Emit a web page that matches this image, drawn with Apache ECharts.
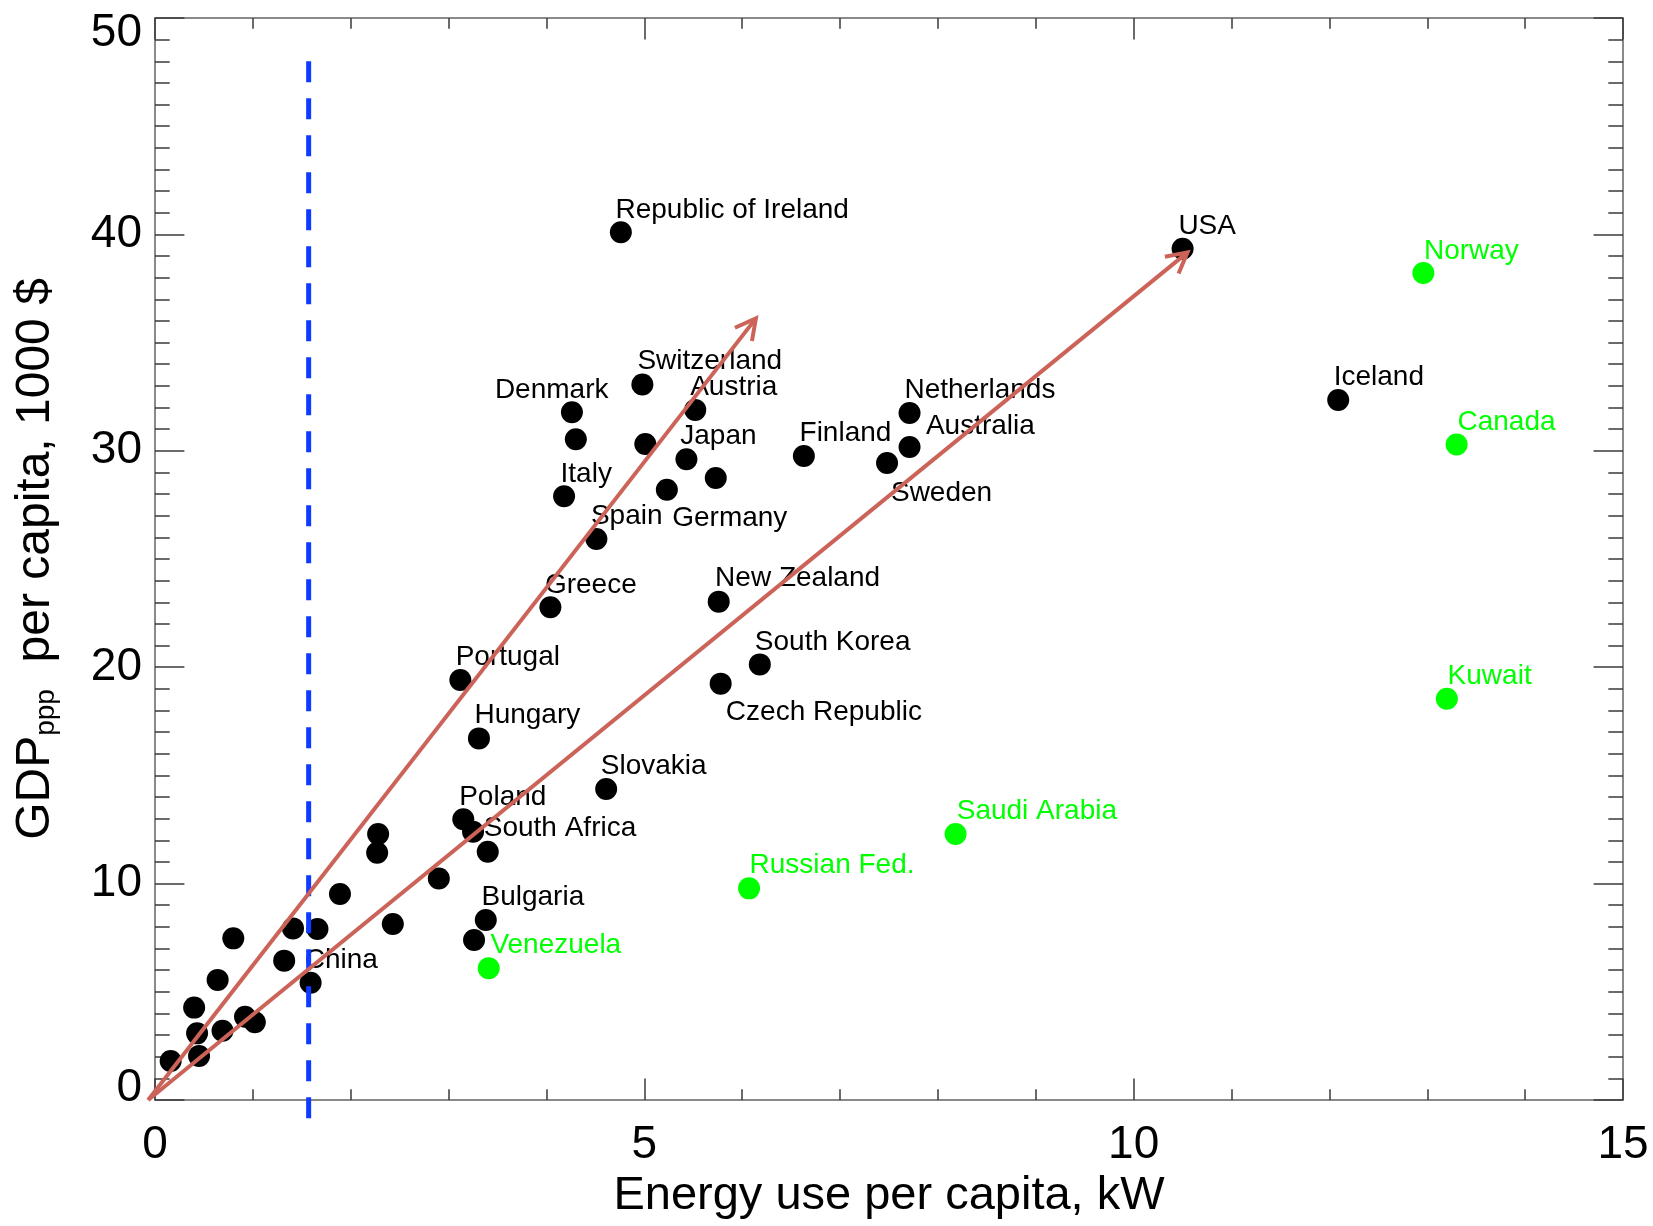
<!DOCTYPE html>
<html>
<head>
<meta charset="utf-8">
<script src="https://cdn.jsdelivr.net/npm/echarts@6/dist/echarts.min.js"></script>
<style>
html,body{margin:0;padding:0;background:#fff;}
#c{width:1653px;height:1226px;}
</style>
</head>
<body>
<div id="c"></div>
<script>
// ---------------- DATA ----------------
// Countries with black markers (energy use kW, GDP ppp 1000$); '' = unlabeled
const blackNames = ['Republic of Ireland','USA','Iceland','Switzerland','Denmark','Austria','','','Japan','Finland',
  'Netherlands','Australia','Sweden','','Germany','Italy','Spain','Greece','New Zealand','South Korea',
  'Czech Republic','Portugal','Hungary','Slovakia','Poland','South Africa','','','Bulgaria','',
  '','','','','','','','China','','','','','','','','',''];
const blackX = [4.76,10.50,12.09,4.98,4.26,5.52,4.30,5.01,5.43,6.63,
  7.71,7.71,7.48,5.73,5.23,4.18,4.51,4.04,5.76,6.18,
  5.78,3.12,3.31,4.61,3.15,3.25,3.40,2.90,3.38,3.26,
  2.28,2.27,1.89,2.43,1.41,1.66,1.32,1.59,0.80,0.64,
  0.40,0.43,0.69,0.92,1.02,0.16,0.45];
const blackY = [40.10,39.34,32.35,33.06,31.78,31.89,30.53,30.31,29.61,29.76,
  31.75,30.18,29.44,28.74,28.20,27.90,25.92,22.77,23.03,20.13,
  19.24,19.41,16.71,14.37,12.97,12.40,11.47,10.24,8.32,7.39,
  12.29,11.43,9.52,8.13,7.93,7.90,6.44,5.42,7.47,5.55,
  4.27,3.08,3.20,3.85,3.59,1.80,2.03];

// Oil/gas exporters (green markers)
const greenNames = ['Norway','Canada','Kuwait','Saudi Arabia','Russian Fed.','Venezuela'];
const greenX = [12.96,13.30,13.20,8.18,6.07,3.41];
const greenY = [38.22,30.29,18.54,12.29,9.78,6.09];

// Text annotations (anchor = left edge / vertical middle, in data units)
const labelNames = ['Republic of Ireland','USA','Norway','Iceland','Canada','Kuwait','Switzerland','Denmark','Austria','Japan',
  'Finland','Netherlands','Australia','Sweden','Italy','Spain','Germany','Greece','New Zealand','South Korea',
  'Czech Republic','Portugal','Hungary','Slovakia','Poland','South Africa','Bulgaria','China','Venezuela','Russian Fed.','Saudi Arabia'];
const labelX = [4.705,10.457,12.966,12.044,13.309,13.208,4.929,3.473,5.468,5.367,
  6.586,7.658,7.877,7.520,4.144,4.454,5.285,3.984,5.723,6.129,
  5.833,3.072,3.264,4.555,3.108,3.359,3.336,1.530,3.427,6.075,8.192];
const labelY = [41.24,40.49,39.33,33.51,31.42,19.71,34.23,32.93,33.03,30.79,
  30.92,32.93,31.27,28.17,29.05,27.07,27.00,23.90,24.22,21.29,
  18.01,20.59,17.88,15.54,14.12,12.65,9.49,6.55,7.26,10.94,13.46];

// Two trend arrows from the origin
const arrowStartX = [-0.07,-0.07];
const arrowStartY = [0,0];
const arrowEndX = [6.14,10.55];
const arrowEndY = [36.12,39.17];

// Vertical dashed reference line
const refLineX = 1.57;
const refLineYFrom = -1.2;
const refLineYTo = 48.0;

// Axis ticks
const xTicks = [0,5,10,15];
const yTicks = [0,10,20,30,40,50];
const xTitle = 'Energy use per capita, kW';

// ---------------- CHART ----------------
const FONT = "'Liberation Sans', Arial, Helvetica, sans-serif";
const FRAME = '#8a8a8a';
const TICK = '#3a3a3a';
const ARROW = '#cc6358';
const GREEN = '#00ff00';
const BLUE = '#0d3bff';
const LABEL_DY = 2.5;   // pixel nudge of annotation text

const chart = echarts.init(document.getElementById('c'), null, {renderer: 'canvas'});

function xAxisDef(pos, showLabel) {
  return {
    type: 'value', position: pos,
    min: xTicks[0], max: xTicks[xTicks.length - 1], interval: xTicks[1] - xTicks[0],
    axisLine: {show: true, onZero: false, lineStyle: {color: FRAME, width: 2}},
    axisTick: {show: true, inside: true, length: 21.6, lineStyle: {color: TICK, width: 1.5}},
    minorTick: {show: true, splitNumber: 5, length: 10.8, lineStyle: {color: TICK, width: 1.5}},
    splitLine: {show: false},
    axisLabel: {show: showLabel, fontSize: 46, color: '#000', fontFamily: FONT, margin: 22},
    name: showLabel ? xTitle : '',
    nameLocation: 'middle', nameGap: 69,
    nameTextStyle: {fontSize: 47, color: '#000', fontFamily: FONT}
  };
}
function yAxisDef(pos, showLabel) {
  return {
    type: 'value', position: pos,
    min: yTicks[0], max: yTicks[yTicks.length - 1], interval: yTicks[1] - yTicks[0],
    axisLine: {show: true, onZero: false, lineStyle: {color: FRAME, width: 2}},
    axisTick: {show: true, inside: true, length: 29.4, lineStyle: {color: TICK, width: 1.5}},
    minorTick: {show: true, splitNumber: 10, length: 14.7, lineStyle: {color: TICK, width: 1.5}},
    splitLine: {show: false},
    axisLabel: {
      show: showLabel, fontSize: 46, color: '#000', fontFamily: FONT, margin: 13,
      formatter: function (v) {
        if (v === yTicks[yTicks.length - 1]) return '{hi|' + v + '}';
        if (v === yTicks[0]) return '{lo|' + v + '}';
        return String(v);
      },
      rich: {
        hi: {fontSize: 46, color: '#000', fontFamily: FONT, padding: [30, 0, 0, 0]},
        lo: {fontSize: 46, color: '#000', fontFamily: FONT, padding: [0, 0, 24, 0]}
      }
    },
    name: showLabel ? '{m|GDP}{s|ppp}{m|  per capita, 1000 $}' : '',
    nameLocation: 'middle', nameGap: 95, nameRotate: 90,
    nameTextStyle: {
      fontSize: 48, color: '#000', fontFamily: FONT,
      rich: {
        m: {fontSize: 48, color: '#000', fontFamily: FONT},
        s: {fontSize: 28, color: '#000', fontFamily: FONT, verticalAlign: 'bottom'}
      }
    }
  };
}

const blackData = blackX.map((x, i) => [x, blackY[i]]);
const greenData = greenX.map((x, i) => [x, greenY[i]]);
const labelData = labelX.map((x, i) => [x, labelY[i], i]);
const arrowData = arrowStartX.map((x, i) => [x, arrowStartY[i], arrowEndX[i], arrowEndY[i]]);

const option = {
  animation: false,
  backgroundColor: '#ffffff',
  grid: {left: 155, right: 30, top: 18, bottom: 126, containLabel: false, outerBoundsMode: 'none'},
  xAxis: [xAxisDef('bottom', true), xAxisDef('top', false)],
  yAxis: [yAxisDef('left', true), yAxisDef('right', false)],
  series: [
    {
      type: 'scatter', name: 'countries', data: blackData,
      symbol: 'circle', symbolSize: 22,
      itemStyle: {color: '#000000', opacity: 1},
      emphasis: {disabled: true}, z: 2
    },
    {
      type: 'scatter', name: 'exporters', data: greenData,
      symbol: 'circle', symbolSize: 22,
      itemStyle: {color: GREEN, opacity: 1},
      emphasis: {disabled: true}, z: 2
    },
    {
      type: 'custom', name: 'labels', data: labelData, z: 3,
      renderItem: function (params, api) {
        const p = api.coord([api.value(0), api.value(1)]);
        const i = api.value(2);
        const name = labelNames[i];
        return {
          type: 'text', x: p[0], y: p[1] + LABEL_DY,
          style: {
            text: name, fill: greenNames.indexOf(name) >= 0 ? GREEN : '#000',
            fontSize: 28, fontFamily: FONT, align: 'left', verticalAlign: 'middle'
          }
        };
      }
    },
    {
      type: 'custom', name: 'ref', data: [[refLineX, refLineYFrom, refLineYTo]], z: 4,
      renderItem: function (params, api) {
        const top = api.coord([api.value(0), api.value(2)]);
        const bot = api.coord([api.value(0), api.value(1)]);
        return {
          type: 'line',
          shape: {x1: top[0], y1: top[1], x2: bot[0], y2: bot[1]},
          style: {stroke: BLUE, lineWidth: 5, lineDash: [21, 16], fill: null}
        };
      }
    },
    {
      type: 'custom', name: 'arrows', data: arrowData, z: 5,
      renderItem: function (params, api) {
        const p0 = api.coord([api.value(0), api.value(1)]);
        const p1 = api.coord([api.value(2), api.value(3)]);
        const dx = p1[0] - p0[0], dy = p1[1] - p0[1];
        const L = Math.hypot(dx, dy);
        const bx = -dx / L, by = -dy / L;
        const head = 23, ang = 28 * Math.PI / 180;
        const c = Math.cos(ang), s = Math.sin(ang);
        const a1 = [p1[0] + head * (bx * c - by * s), p1[1] + head * (bx * s + by * c)];
        const a2 = [p1[0] + head * (bx * c + by * s), p1[1] + head * (-bx * s + by * c)];
        return {
          type: 'group',
          children: [
            {type: 'line', shape: {x1: p0[0], y1: p0[1], x2: p1[0], y2: p1[1]},
             style: {stroke: ARROW, lineWidth: 4, fill: null}},
            {type: 'polyline', shape: {points: [a1, p1, a2]},
             style: {stroke: ARROW, lineWidth: 4, fill: null, lineJoin: 'miter'}}
          ]
        };
      }
    }
  ]
};
chart.setOption(option);
</script>
</body>
</html>
